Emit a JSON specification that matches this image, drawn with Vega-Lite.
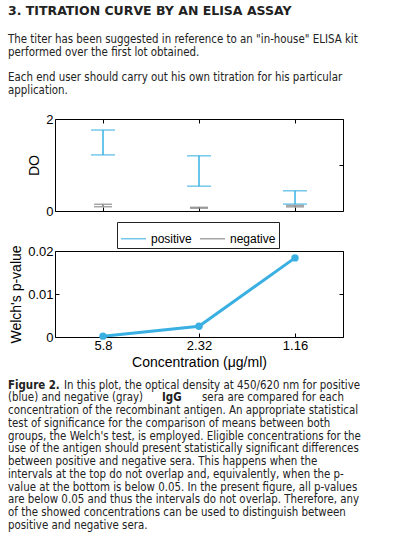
{
  "$schema": "https://vega.github.io/schema/vega-lite/v6.json",
  "padding": {"left": 8, "top": 0, "right": 0, "bottom": 0},
  "background": "white",
  "spacing": 40,
  "bounds": "flush",
  "resolve": {"scale": {"color": "independent"}, "legend": {"color": "independent"}},
  "config": {
    "view": {"stroke": "black", "strokeWidth": 1},
    "axis": {
      "labelFont": "Liberation Sans", "titleFont": "Liberation Sans",
      "labelFontSize": 13, "titleFontSize": 14, "labelColor": "black", "titleColor": "black",
      "titleFontWeight": "normal", "domain": false, "grid": false,
      "tickColor": "black", "tickSize": 4, "offset": -4, "tickWidth": 1, "labelPadding": 2
    }
  },
  "datasets": {
    "header": [
      {"line": 0, "text": "3. TITRATION CURVE BY AN ELISA ASSAY"},
      {"line": 2, "text": "The titer has been suggested in reference to an \"in-house\" ELISA kit"},
      {"line": 3, "text": "performed over the first lot obtained."},
      {"line": 5, "text": "Each end user should carry out his own titration for his particular"},
      {"line": 6, "text": "application."}
    ],
    "od": [
      {"conc": "5.8", "group": "positive", "lo": 1.22, "hi": 1.76},
      {"conc": "2.32", "group": "positive", "lo": 0.54, "hi": 1.2},
      {"conc": "1.16", "group": "positive", "lo": 0.15, "hi": 0.44},
      {"conc": "5.8", "group": "negative", "lo": 0.093, "hi": 0.146},
      {"conc": "2.32", "group": "negative", "lo": 0.06, "hi": 0.08},
      {"conc": "1.16", "group": "negative", "lo": 0.09, "hi": 0.12}
    ],
    "pval": [
      {"conc": "5.8", "p": 0.0002},
      {"conc": "2.32", "p": 0.0025},
      {"conc": "1.16", "p": 0.0184}
    ],
    "caption": [
      {"line": 0, "text": "Figure 2."},
      {"line": 0, "text": "In this plot, the optical density at 450/620 nm for positive"},
      {"line": 1, "text": "(blue) and negative (gray)"},
      {"line": 1, "text": "IgG"},
      {"line": 1, "text": "sera are compared for each"},
      {"line": 2, "text": "concentration of the recombinant antigen. An appropriate statistical"},
      {"line": 3, "text": "test of significance for the comparison of means between both"},
      {"line": 4, "text": "groups, the Welch's test, is employed. Eligible concentrations for the"},
      {"line": 5, "text": "use of the antigen should present statistically significant differences"},
      {"line": 6, "text": "between positive and negative sera. This happens when the"},
      {"line": 7, "text": "intervals at the top do not overlap and, equivalently, when the p-"},
      {"line": 8, "text": "value at the bottom is below 0.05. In the present figure, all p-values"},
      {"line": 9, "text": "are below 0.05 and thus the intervals do not overlap. Therefore, any"},
      {"line": 10, "text": "of the showed concentrations can be used to distinguish between"},
      {"line": 11, "text": "positive and negative sera."}
    ]
  },
  "vconcat": [
    {
      "width": 288, "height": 79,
      "view": {"stroke": null},
      "data": {"name": "header"},
      "encoding": {
        "x": {"datum": 0, "type": "quantitative", "scale": {"domain": [0, 1]}, "axis": null},
        "y": {"field": "line", "type": "quantitative", "scale": {"domain": [0, 6], "range": [14.5, 91]}, "axis": null},
        "text": {"field": "text"}
      },
      "layer": [
        {
          "transform": [{"filter": "datum.line == 0"}],
          "mark": {"type": "text", "align": "left", "baseline": "middle", "font": "DejaVu Sans", "fontWeight": "bold", "fontSize": 12.5, "dx": -47, "dy": -3.5, "color": "#222222"}
        },
        {
          "transform": [{"filter": "datum.line > 0"}],
          "mark": {"type": "text", "align": "left", "baseline": "middle", "font": "DejaVu Sans Condensed, DejaVu Sans", "fontSize": 11.4, "dx": -47, "color": "#222222"}
        }
      ]
    },
    {
      "width": 288, "height": 92,
      "data": {"name": "od"},
      "layer": [
        {
          "mark": {"type": "rule", "strokeWidth": 1.5},
          "encoding": {
            "x": {"field": "conc", "type": "ordinal", "scale": {"type": "point", "domain": ["5.8", "2.32", "1.16"], "padding": 0.5}, "axis": {"labels": false, "title": null}},
            "y": {"field": "lo", "type": "quantitative", "scale": {"domain": [0, 2]}, "axis": {"values": [0, 1, 2], "format": "d", "title": "DO", "titlePadding": 4}},
            "y2": {"field": "hi"},
            "color": {"field": "group", "type": "nominal", "scale": {"domain": ["positive", "negative"], "range": ["#3AB0E2", "#808080"]},
              "legend": {"title": null, "orient": "none", "legendX": 62, "legendY": 103, "direction": "horizontal", "strokeColor": "#222222", "fillColor": "white", "padding": 3, "symbolType": "stroke", "symbolSize": 625, "symbolStrokeWidth": 1.5, "labelFont": "Liberation Sans", "labelFontSize": 12, "labelColor": "black", "columnPadding": 5, "labelOffset": 4}}
          }
        },
        {
          "transform": [{"filter": "datum.group == 'positive'"}, {"fold": ["lo", "hi"], "as": ["end", "val"]}],
          "mark": {"type": "tick", "thickness": 1.5, "size": 24},
          "encoding": {
            "x": {"field": "conc", "type": "ordinal", "scale": {"type": "point", "domain": ["5.8", "2.32", "1.16"], "padding": 0.5}, "axis": {"orient": "top", "labels": false, "title": null}},
            "y": {"field": "val", "type": "quantitative", "axis": {"orient": "right", "values": [0, 1, 2], "labels": false, "title": null}},
            "color": {"field": "group", "type": "nominal"}
          }
        },
        {
          "transform": [{"filter": "datum.group == 'negative'"}, {"fold": ["lo", "hi"], "as": ["end", "val"]}],
          "mark": {"type": "tick", "thickness": 1.5, "size": 18},
          "encoding": {
            "x": {"field": "conc", "type": "ordinal", "scale": {"type": "point", "domain": ["5.8", "2.32", "1.16"], "padding": 0.5}, "axis": null},
            "y": {"field": "val", "type": "quantitative", "axis": null},
            "color": {"field": "group", "type": "nominal"}
          }
        }
      ],
      "resolve": {"axis": {"x": "independent", "y": "independent"}}
    },
    {
      "width": 288, "height": 86,
      "data": {"name": "pval"},
      "layer": [
        {
          "mark": {"type": "line", "color": "#3AB0E2", "strokeWidth": 3},
          "encoding": {
            "x": {"field": "conc", "type": "ordinal", "scale": {"type": "point", "domain": ["5.8", "2.32", "1.16"], "padding": 0.5}, "axis": {"title": "Concentration (μg/ml)", "labelAngle": 0, "titlePadding": 3}},
            "y": {"field": "p", "type": "quantitative", "scale": {"domain": [0, 0.02]}, "axis": {"values": [0, 0.01, 0.02], "format": "~g", "title": "Welch's p-value", "titlePadding": 4}}
          }
        },
        {
          "mark": {"type": "point", "filled": true, "color": "#3AB0E2", "size": 55, "opacity": 1},
          "encoding": {
            "x": {"field": "conc", "type": "ordinal", "scale": {"type": "point", "domain": ["5.8", "2.32", "1.16"], "padding": 0.5}, "axis": null},
            "y": {"field": "p", "type": "quantitative", "axis": {"orient": "right", "values": [0, 0.01, 0.02], "labels": false, "title": null}}
          }
        }
      ],
      "resolve": {"axis": {"x": "independent", "y": "independent"}}
    },
    {
      "width": 288, "height": 160,
      "view": {"stroke": null},
      "data": {"name": "caption"},
      "encoding": {
        "x": {"datum": 0, "type": "quantitative", "scale": {"domain": [0, 1]}, "axis": null},
        "y": {"field": "line", "type": "quantitative", "scale": {"domain": [0, 11], "range": [8.5, 149]}, "axis": null},
        "text": {"field": "text"}
      },
      "layer": [
        {
          "transform": [{"filter": "datum.text == 'Figure 2.'"}],
          "mark": {"type": "text", "align": "left", "baseline": "middle", "font": "DejaVu Sans Condensed, DejaVu Sans", "fontSize": 11.4, "fontWeight": "bold", "dx": -47, "color": "#222222"}
        },
        {
          "transform": [{"filter": "datum.text == 'IgG'"}],
          "mark": {"type": "text", "align": "left", "baseline": "middle", "font": "DejaVu Sans Condensed, DejaVu Sans", "fontSize": 11.4, "fontWeight": "bold", "dx": 107, "color": "#222222"}
        },
        {
          "transform": [{"filter": "datum.line == 0 && datum.text != 'Figure 2.'"}],
          "mark": {"type": "text", "align": "left", "baseline": "middle", "font": "DejaVu Sans Condensed, DejaVu Sans", "fontSize": 11.4, "dx": 9, "color": "#222222"}
        },
        {
          "transform": [{"filter": "datum.text == 'sera are compared for each'"}],
          "mark": {"type": "text", "align": "left", "baseline": "middle", "font": "DejaVu Sans Condensed, DejaVu Sans", "fontSize": 11.4, "dx": 147, "color": "#222222"}
        },
        {
          "transform": [{"filter": "datum.line > 0 && datum.text != 'IgG' && datum.text != 'sera are compared for each'"}],
          "mark": {"type": "text", "align": "left", "baseline": "middle", "font": "DejaVu Sans Condensed, DejaVu Sans", "fontSize": 11.4, "dx": -47, "color": "#222222"}
        }
      ]
    }
  ]
}
